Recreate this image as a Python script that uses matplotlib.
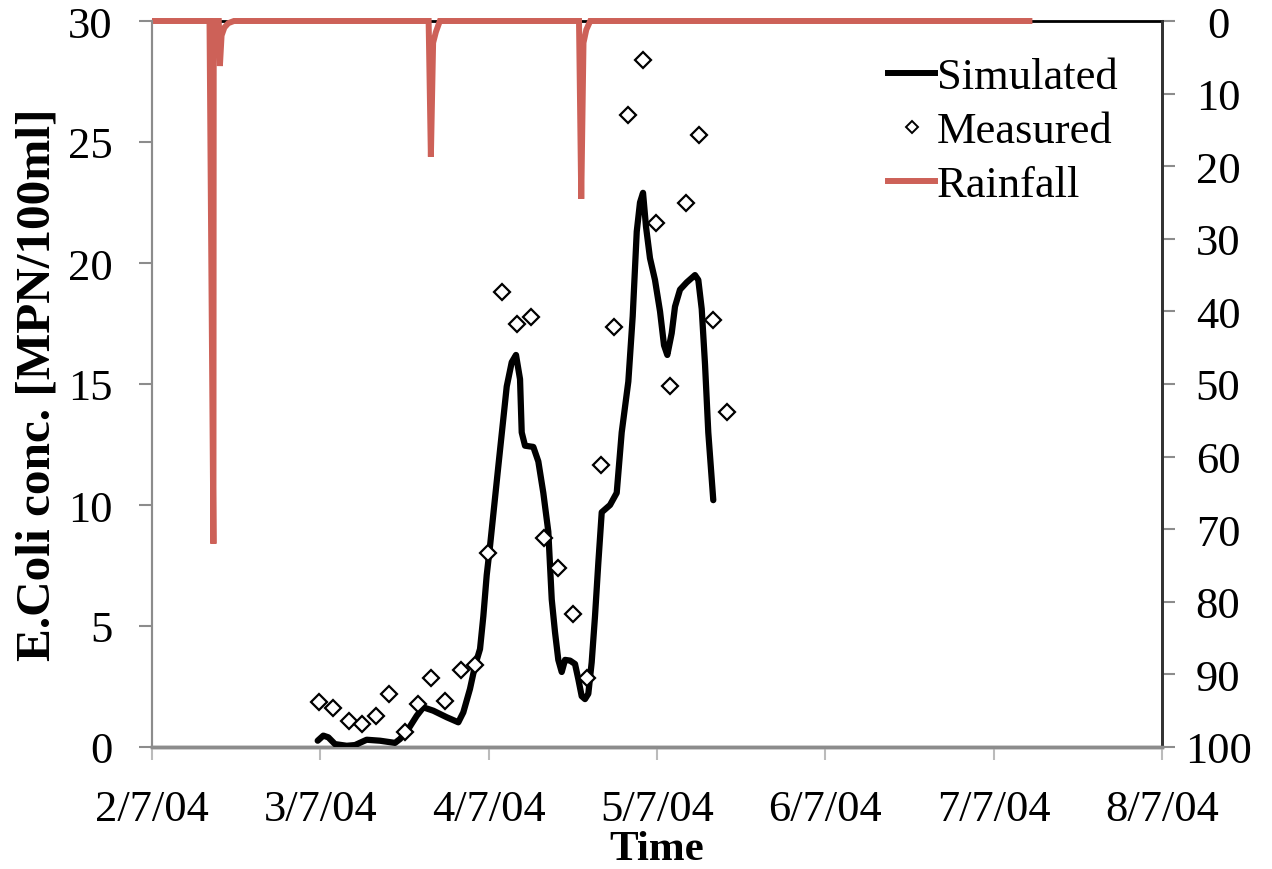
import matplotlib
matplotlib.use("Agg")
import matplotlib.pyplot as plt
from matplotlib.lines import Line2D

# ---- data (days after 2/7/04) ----
x_tick_days = [0, 30, 60, 90, 120, 150, 180]
x_tick_labels = ["2/7/04", "3/7/04", "4/7/04", "5/7/04", "6/7/04", "7/7/04", "8/7/04"]

sim_day = [29.53, 30.53, 31.42, 32.61, 34.70, 36.18, 38.26, 40.63, 43.31, 44.20,
           45.68, 47.18, 48.35, 50.13, 52.52, 54.59, 55.48, 56.67, 57.57, 58.46,
           59.05, 59.65, 60.24, 61.72, 63.22, 64.11, 64.87, 65.59, 65.89, 66.48,
           67.96, 68.85, 69.74, 70.63, 71.24, 71.82, 72.41, 73.02, 73.61, 74.50,
           75.39, 75.98, 76.58, 77.17, 77.76, 78.36, 78.95, 79.54, 80.15, 81.63,
           82.82, 83.71, 84.89, 85.67, 86.39, 86.97, 87.51, 88.04, 88.75, 89.64,
           90.54, 91.25, 91.84, 92.62, 93.21, 94.10, 95.30, 96.77, 97.36, 97.97,
           98.56, 99.14, 100.03]
sim_val = [0.26, 0.47, 0.40, 0.12, 0.05, 0.08, 0.30, 0.26, 0.17, 0.33,
           0.74, 1.29, 1.64, 1.50, 1.23, 1.02, 1.43, 2.40, 3.36, 4.05,
           5.4, 7.1, 8.3, 11.6, 14.9, 15.9, 16.2, 15.2, 13.0, 12.45,
           12.4, 11.8, 10.5, 8.9, 6.1, 4.75, 3.6, 3.1, 3.6, 3.57,
           3.43, 2.8, 2.1, 1.98, 2.2, 3.5, 5.4, 7.6, 9.7, 10.0,
           10.5, 13.0, 15.1, 17.8, 21.3, 22.5, 22.9, 21.5, 20.2, 19.3,
           18.0, 16.6, 16.2, 17.1, 18.2, 18.9, 19.2, 19.5, 19.3, 18.1,
           15.8, 13.0, 10.2]

meas_day = [29.8, 32.3, 35.1, 37.5, 39.9, 42.3, 45.1, 47.4, 49.8, 52.3, 55.1, 57.6,
            59.9, 62.3, 65.1, 67.5, 69.9, 72.4, 75.1, 77.6, 80.0, 82.3, 84.8, 87.5,
            89.9, 92.3, 95.2, 97.5, 99.9, 102.4]
meas_val = [1.84, 1.60, 1.09, 0.95, 1.29, 2.19, 0.63, 1.78, 2.84, 1.91, 3.18, 3.40,
            8.02, 18.81, 17.48, 17.76, 8.63, 7.40, 5.50, 2.84, 11.64, 17.34, 26.1, 28.4,
            21.65, 14.93, 22.5, 25.3, 17.65, 13.85]

rain_day = [0, 10.25, 10.95, 11.0, 11.9, 12.1, 12.4, 12.9, 13.6, 14.6,
            49.3, 49.7, 50.1, 50.6, 51.3,
            76.1, 76.5, 76.9, 77.4, 78.1, 156.9]
rain_val = [0, 0, 72, 0, 0, 6.2, 2.0, 0.9, 0.3, 0,
            0, 18.7, 3.0, 1.5, 0,
            0, 24.5, 3.0, 1.2, 0, 0]

RAIN_COLOR = "#CD6158"
SERIF = ["Liberation Serif", "DejaVu Serif"]
plt.rcParams["font.family"] = SERIF

fig = plt.figure(figsize=(12.72, 8.70), dpi=100)
ax = fig.add_axes([152/1272, 1-748/870, (1162-152)/1272, (748-22)/870])
ax2 = ax.twinx()

ax.set_xlim(0, 180)
ax.set_ylim(0, 30)
ax2.set_ylim(100, 0)

# rainfall on right (inverted) axis
ax2.plot(rain_day, rain_val, color=RAIN_COLOR, lw=4.3, solid_joinstyle="miter",
         solid_capstyle="butt", zorder=3, clip_on=False)

# simulated and measured on left axis (draw above)
ax.set_zorder(ax2.get_zorder() + 1)
ax.patch.set_visible(False)
ax.plot(sim_day, sim_val, color="black", lw=4.5, solid_capstyle="round",
        solid_joinstyle="round", zorder=3)
ax.plot(meas_day, meas_val, linestyle="none", marker="D", markersize=8.5,
        markerfacecolor="white", markeredgecolor="black", markeredgewidth=1.6, zorder=4)

# ticks
ax.set_xticks(x_tick_days)
ax.set_xticklabels(x_tick_labels)
ax.set_yticks(range(0, 31, 5))
ax2.set_yticks(range(0, 101, 10))

grey = "#8C8C8C"
ax.tick_params(axis="x", direction="out", length=9.4, width=1.5, color="#BBBBBB",
               labelsize=32, pad=21)
ax.tick_params(axis="y", direction="out", length=9.4, width=1.5, color=grey,
               labelsize=32, pad=19)
ax2.tick_params(axis="y", direction="out", length=9.4, width=1.5, color=grey,
                labelsize=32, pad=31)
for lab in ax2.get_yticklabels():
    lab.set_horizontalalignment("center")

for a in (ax, ax2):
    a.spines["left"].set_color(grey)
    a.spines["left"].set_linewidth(1.5)
    a.spines["bottom"].set_color(grey)
    a.spines["bottom"].set_linewidth(2.5)
    a.spines["right"].set_color("#333333")
    a.spines["right"].set_linewidth(2.0)
ax.spines["top"].set_visible(False)
ax2.spines["top"].set_color("black")
ax2.spines["top"].set_linewidth(2.0)

ax.set_ylabel("E.Coli conc. [MPN/100ml]", fontsize=35.5, fontweight="bold", labelpad=6)
ax.set_xlabel("Time", fontsize=31, fontweight="bold", labelpad=0.5)

handles = [Line2D([], [], color="black", lw=4.3),
           Line2D([], [], linestyle="none", marker="D", markersize=6.5,
                  markerfacecolor="white", markeredgecolor="black", markeredgewidth=1.4),
           Line2D([], [], color=RAIN_COLOR, lw=4.3)]
fig.legend(handles, ["Simulated", "Measured", "Rainfall"], loc="upper left",
           bbox_to_anchor=(866/1272, 1-36/870), frameon=False, fontsize=32,
           handlelength=1.05, handletextpad=0.05, labelspacing=0.31, borderpad=0)

fig.savefig("out.png", dpi=100)
